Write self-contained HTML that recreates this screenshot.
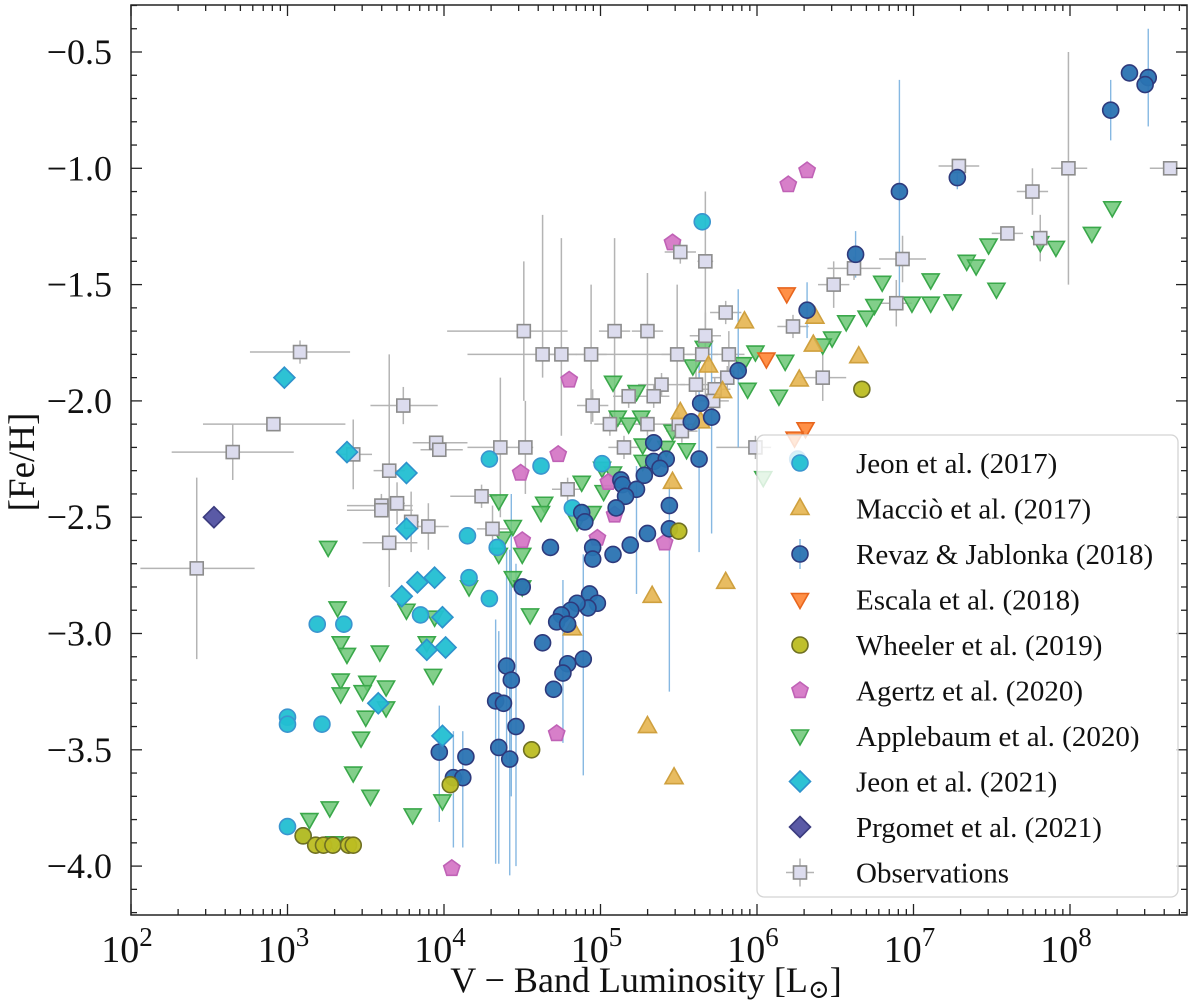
<!DOCTYPE html>
<html><head><meta charset="utf-8"><style>
html,body{margin:0;padding:0;background:#fff;width:1200px;height:1000px;overflow:hidden}
svg{display:block}
text{font-family:"Liberation Serif","DejaVu Serif",serif;fill:#111}
</style></head><body>
<svg id="chart" xmlns="http://www.w3.org/2000/svg" width="1200" height="1000" viewBox="0 0 1200 1000"></svg>
<script>
// ---- data (log10 L_V, [Fe/H]) ----
const jeon17_logL=[5.65,4.29,4.62,5.01,4.82,4.15,4.34,4.16,4.29,3.85,3.19,3.36,3.00,3.00,3.22,3.00,3.10,6.26];
const jeon17_feh=[-1.23,-2.25,-2.28,-2.27,-2.46,-2.58,-2.63,-2.76,-2.85,-2.92,-2.96,-2.96,-3.36,-3.39,-3.39,-3.83,-3.87,-2.25];
const maccio_logL=[5.92,6.37,6.36,6.65,6.27,5.69,5.78,5.51,5.64,5.46,4.82,5.33,5.80,5.30,5.47];
const maccio_feh=[-1.66,-1.64,-1.76,-1.81,-1.91,-1.85,-1.96,-2.05,-2.09,-2.35,-2.98,-2.84,-2.78,-3.40,-3.62];
const revaz_logL=[6.91,7.28,8.26,8.38,8.50,8.48,6.63,6.32,5.88,5.71,5.64,5.58,5.34,5.63,5.34,5.42,5.38,5.28,5.13,5.14,5.23,5.16,5.44,5.10,4.88,4.90,5.30,5.44,4.68,4.95,5.19,5.08,4.95,4.50,4.93,4.98,4.92,4.85,4.81,4.75,4.72,4.79,4.63,4.89,4.79,4.76,4.70,4.40,4.43,4.33,4.38,4.46,4.35,4.42,3.97,4.14,4.06,4.12];
const revaz_feh=[-1.10,-1.04,-0.75,-0.59,-0.61,-0.64,-1.37,-1.61,-1.87,-2.07,-2.01,-2.09,-2.18,-2.25,-2.26,-2.25,-2.29,-2.32,-2.34,-2.36,-2.38,-2.41,-2.45,-2.46,-2.48,-2.52,-2.57,-2.55,-2.63,-2.63,-2.62,-2.66,-2.68,-2.80,-2.83,-2.87,-2.89,-2.87,-2.90,-2.92,-2.95,-2.96,-3.04,-3.11,-3.13,-3.17,-3.24,-3.14,-3.20,-3.29,-3.30,-3.40,-3.49,-3.54,-3.51,-3.53,-3.62,-3.62];
const revaz_errLo=[0.48,0.05,0.13,0,0.21,0,0.1,0.12,0.33,0.5,0,0,0,0.4,0,0,0,0,0,0,0.45,0,0,0,0,0,0,0.7,0,0,0,0,0,0,0,0,0,0,0,0,0,0,0,0.5,0,0.3,0,0.4,0.5,0.7,0,0.6,0.5,0.5,0.3,0,0.3,0.3];
const revaz_errHi=[0.48,0.05,0.13,0,0.21,0,0.1,0.12,0.35,0.36,0,0,0,0.5,0,0,0,0,0,0,0.1,0,0,0,0,0,0,0.2,0,0,0,0,0,0,0,0,0,0,0,0,0,0,0,0.45,0,0.4,0,0.5,0.8,0.35,0,0.7,0.5,0.9,0.2,0,0.2,0.2];
const escala_logL=[6.19,6.06,6.31,6.24];
const escala_feh=[-1.54,-1.82,-2.12,-2.16];
const wheeler_logL=[6.67,5.50,4.56,4.04,3.10,3.18,3.23,3.29,3.39,3.42];
const wheeler_feh=[-1.95,-2.56,-3.50,-3.65,-3.87,-3.91,-3.91,-3.91,-3.91,-3.91];
const agertz_logL=[6.32,6.20,5.46,4.80,4.73,4.49,5.05,5.09,4.98,5.41,4.50,4.72,4.05];
const agertz_feh=[-1.01,-1.07,-1.32,-1.91,-2.23,-2.31,-2.35,-2.49,-2.59,-2.61,-2.60,-3.43,-4.01];
const apple_logL=[7.48,7.34,7.40,7.11,7.53,6.99,7.11,7.25,7.81,7.91,8.14,8.27,6.80,6.75,6.70,6.57,6.48,6.42,5.99,6.18,5.94,6.14,5.59,5.66,5.91,5.08,5.23,5.11,5.18,5.26,5.46,5.55,5.27,5.42,5.27,5.01,5.08,4.88,5.02,4.35,4.64,4.62,4.95,4.85,4.44,4.38,4.35,4.50,4.44,4.50,4.16,4.55,3.93,3.99,3.80,3.32,3.76,3.34,3.38,3.59,3.34,3.51,3.63,3.34,3.48,3.63,3.50,3.47,3.42,3.53,3.27,3.14,3.30,3.89,3.26,3.94,6.04];
const apple_feh=[-1.33,-1.40,-1.42,-1.48,-1.52,-1.58,-1.58,-1.57,-1.32,-1.34,-1.28,-1.17,-1.49,-1.59,-1.64,-1.66,-1.73,-1.76,-1.79,-1.83,-1.95,-1.98,-1.85,-1.77,-1.84,-1.92,-1.96,-2.07,-2.10,-2.07,-2.13,-2.21,-2.19,-2.20,-2.26,-2.29,-2.31,-2.35,-2.39,-2.43,-2.44,-2.48,-2.48,-2.52,-2.54,-2.59,-2.66,-2.66,-2.76,-2.80,-2.80,-2.92,-3.18,-3.72,-3.78,-2.89,-2.90,-3.04,-3.09,-3.08,-3.20,-3.21,-3.23,-3.26,-3.25,-3.32,-3.36,-3.45,-3.60,-3.70,-3.75,-3.80,-3.90,-3.04,-2.63,-2.93,-2.33];
const jeon21_logL=[2.98,3.38,3.76,3.76,3.94,3.83,3.73,3.99,3.89,4.01,3.58,3.99];
const jeon21_feh=[-1.90,-2.22,-2.31,-2.55,-2.76,-2.78,-2.84,-2.93,-3.07,-3.06,-3.30,-3.44];
const prgomet_logL=[2.53];
const prgomet_feh=[-2.50];
const obs_logL=[3.08,3.74,2.91,2.65,3.42,3.65,3.95,3.97,3.60,3.60,3.70,3.79,3.90,3.65,2.42,4.36,4.52,4.51,4.63,4.75,4.94,5.09,5.30,5.49,5.65,5.67,5.51,5.67,5.80,5.82,6.23,5.39,5.61,5.18,5.34,5.73,5.72,5.81,4.95,5.06,5.30,5.50,5.52,5.15,5.99,4.79,4.24,4.31,6.49,6.62,6.93,6.89,6.42,7.29,7.99,8.64,7.76,7.60,7.81];
const obs_feh=[-1.79,-2.02,-2.10,-2.22,-2.23,-2.30,-2.18,-2.21,-2.45,-2.47,-2.44,-2.52,-2.54,-2.61,-2.72,-2.20,-2.20,-1.70,-1.80,-1.80,-1.80,-1.70,-1.70,-1.80,-1.80,-1.72,-1.36,-1.40,-1.62,-1.80,-1.68,-1.93,-1.93,-1.98,-1.98,-1.95,-2.00,-1.90,-2.02,-2.10,-2.10,-2.10,-2.13,-2.20,-2.20,-2.38,-2.41,-2.55,-1.50,-1.43,-1.39,-1.58,-1.90,-0.99,-1.00,-1.00,-1.10,-1.28,-1.30];
const obs_xLo=[0.32,0.21,0.45,0.39,0.1,0.1,0.15,0.12,0.22,0.22,0.05,0.05,0.12,0.17,0.36,0.21,0.05,0.49,0.48,0.1,0.1,0.1,0.1,0.1,0.1,0.1,0.1,0.05,0.1,0.1,0.1,0.15,0.1,0.1,0.1,0.1,0.1,0.1,0.1,0.1,0.1,0.1,0.1,0.1,0.25,0.1,0.2,0.1,0.1,0.17,0.15,0.1,0.15,0.13,0.11,0.13,0.1,0.1,0.05];
const obs_xHi=[0.32,0.22,0.46,0.39,0.12,0.1,0.2,0.15,0.2,0.2,0.05,0.05,0.13,0.18,0.37,0.14,0.05,0.28,0.86,0.1,0.1,0.1,0.1,0.1,0.1,0.1,0.1,0.05,0.1,0.1,0.1,0.15,0.1,0.1,0.1,0.1,0.1,0.1,0.1,0.1,0.1,0.1,0.1,0.1,0.1,0.1,0.1,0.1,0.1,0.17,0.15,0.1,0.15,0.13,0.12,0.13,0.1,0.1,0.05];
const obs_yLo=[0.05,0.08,0,0.12,0.15,0.5,0,0.03,0.05,0,0.09,0.13,0.1,0.12,0.39,0.3,0.2,0.3,0.1,0.35,0.3,0.4,0.3,0.3,0,0.1,0.05,0.6,0.05,0.1,0.05,0.05,0.1,0.05,0.05,0.05,0.05,0.05,0.07,0.05,0.05,0.05,0.05,0.05,0.05,0.05,0.05,0.1,0.1,0.05,0.1,0.1,0.1,0.03,0.5,0,0.1,0.02,0.1];
const obs_yHi=[0.05,0.08,0,0.12,0.15,0.5,0,0.03,0.05,0,0.09,0.13,0.1,0.12,0.39,0.3,0.2,0.3,0.6,0.5,0.3,0.4,0.25,0.3,0,0.1,0.05,0.3,0.05,0.1,0.05,0.05,0.1,0.05,0.05,0.05,0.05,0.05,0.07,0.05,0.05,0.05,0.05,0.05,0.05,0.05,0.05,0.1,0.1,0.05,0.1,0.1,0.1,0.03,0.5,0,0.1,0.02,0.1];
const xTickExp=[2,3,4,5,6,7,8];
const yTickVals=[-4.0,-3.5,-3.0,-2.5,-2.0,-1.5,-1.0,-0.5];
const yTickLabels=["\u22124.0","\u22123.5","\u22123.0","\u22122.5","\u22122.0","\u22121.5","\u22121.0","\u22120.5"];
const legendLabels=["Jeon et al. (2017)","Macci\u00f2 et al. (2017)","Revaz & Jablonka (2018)","Escala et al. (2018)","Wheeler et al. (2019)","Agertz et al. (2020)","Applebaum et al. (2020)","Jeon et al. (2021)","Prgomet et al. (2021)","Observations"];

// ---- layout ----
const L=131,R=1187,T=5,B=915;
const X0=2,DEC=156.5, Y0=-0.5, YS=232.6, YREF=52;
function sx(l){return L+(l-X0)*DEC;}
function sy(f){return YREF+(Y0-f)*YS;}
const NS="http://www.w3.org/2000/svg";
const svg=document.getElementById('chart');
function el(tag,attrs,parent){const e=document.createElementNS(NS,tag);for(const k in attrs)e.setAttribute(k,attrs[k]);(parent||svg).appendChild(e);return e;}

const styles={
 jeon17:{shape:'circle',fill:'#22bfd2',stroke:'#3a95cf',op:0.95},
 maccio:{shape:'up',fill:'#e6b550',stroke:'#cfa03e',op:0.9},
 revaz:{shape:'circle',fill:'#2a73b2',stroke:'#2e3a7c',op:0.95},
 escala:{shape:'down',fill:'#ff8a3d',stroke:'#e8661e',op:0.95},
 wheeler:{shape:'circle',fill:'#bcbd22',stroke:'#6f7022',op:0.95},
 agertz:{shape:'pent',fill:'#d578c6',stroke:'#c062b6',op:0.95},
 apple:{shape:'down',fill:'#6cc776',stroke:'#3aa84a',op:0.85},
 jeon21:{shape:'diamond',fill:'#22bfd2',stroke:'#2e92cc',op:0.95},
 prgomet:{shape:'diamond',fill:'#5a5aa6',stroke:'#3b3b7e',op:1},
 obs:{shape:'square',fill:'#dcdcee',stroke:'#8c8c8c',op:1}
};
function marker(st,cx,cy,g){
 let e;
 const a={fill:st.fill,stroke:st.stroke,'stroke-width':1.6,'fill-opacity':st.op};
 if(st.shape==='circle'){e=el('circle',Object.assign({cx:cx,cy:cy,r:8},a),g);}
 else if(st.shape==='up'){e=el('polygon',Object.assign({points:`${cx},${cy-10} ${cx-9},${cy+6} ${cx+9},${cy+6}`},a),g);}
 else if(st.shape==='down'){e=el('polygon',Object.assign({points:`${cx},${cy+9} ${cx-8.5},${cy-6} ${cx+8.5},${cy-6}`},a),g);}
 else if(st.shape==='diamond'){e=el('polygon',Object.assign({points:`${cx},${cy-10.5} ${cx+10.5},${cy} ${cx},${cy+10.5} ${cx-10.5},${cy}`},a),g);}
 else if(st.shape==='square'){e=el('rect',Object.assign({x:cx-6.5,y:cy-6.5,width:13,height:13},a),g);}
 else {let p=[];for(let i=0;i<5;i++){const ang=-Math.PI/2+i*2*Math.PI/5;p.push((cx+8.5*Math.cos(ang)).toFixed(1)+','+(cy+8.5*Math.sin(ang)).toFixed(1));}
  e=el('polygon',Object.assign({points:p.join(' ')},a),g);}
 return e;
}

const defs=el('defs',{});
const cp=el('clipPath',{id:'plotclip'},defs);
el('rect',{x:L,y:T,width:R-L,height:B-T},cp);
const plot=el('g',{'clip-path':'url(#plotclip)'});



function series(name,lx,fe,st){
 const g=el('g',{},plot);
 
 
 for(let i=0;i<lx.length;i++){
  const m=marker(st,sx(lx[i]),sy(fe[i]),g);
  
  
 }
}

const obsErr=el('g',{stroke:'#b4b4b4','stroke-width':1.5,fill:'none'},plot);


for(let i=0;i<obs_logL.length;i++){
 const cx=sx(obs_logL[i]),cy=sy(obs_feh[i]);
 const h=el('line',{x1:sx(obs_logL[i]-obs_xLo[i]),x2:sx(obs_logL[i]+obs_xHi[i]),y1:cy,y2:cy},obsErr);
 
 
 const v=el('line',{x1:cx,x2:cx,y1:sy(obs_feh[i]-obs_yLo[i]),y2:sy(obs_feh[i]+obs_yHi[i])},obsErr);
 
 
}
const revErr=el('g',{stroke:'#86b8e2','stroke-width':1.4},plot);


for(let i=0;i<revaz_logL.length;i++){
 if(revaz_errLo[i]===0&&revaz_errHi[i]===0)continue;
 const cx=sx(revaz_logL[i]);
 const v=el('line',{x1:cx,x2:cx,y1:sy(revaz_feh[i]-revaz_errLo[i]),y2:sy(revaz_feh[i]+revaz_errHi[i])},revErr);
 
 
}

series('applebaum-2020',apple_logL,apple_feh,styles.apple);
series('agertz-2020',agertz_logL,agertz_feh,styles.agertz);
series('observations',obs_logL,obs_feh,styles.obs);
series('jeon-2017',jeon17_logL,jeon17_feh,styles.jeon17);
series('maccio-2017',maccio_logL,maccio_feh,styles.maccio);
series('revaz-jablonka-2018',revaz_logL,revaz_feh,styles.revaz);
series('escala-2018',escala_logL,escala_feh,styles.escala);
series('wheeler-2019',wheeler_logL,wheeler_feh,styles.wheeler);
series('jeon-2021',jeon21_logL,jeon21_feh,styles.jeon21);
series('prgomet-2021',prgomet_logL,prgomet_feh,styles.prgomet);

const frame=el('rect',{x:L,y:T,width:R-L,height:B-T,fill:'none',stroke:'#222','stroke-width':1.5});


const ticks=el('g',{stroke:'#222','stroke-width':1.3});


const xlab=el('g',{});


for(const e of xTickExp){
 const x=sx(e);
 el('line',{x1:x,x2:x,y1:B,y2:B-11},ticks);
 el('line',{x1:x,x2:x,y1:T,y2:T+11},ticks);
 const t=el('text',{x:x-4,y:962,'font-size':38,'text-anchor':'middle'},xlab);
 
 
 t.textContent='10';
 const s=el('tspan',{dy:-16,'font-size':27},t);s.textContent=String(e);
 for(let m=2;m<=9;m++){
  const xm=sx(e+Math.log10(m));
  if(xm>R)continue;
  el('line',{x1:xm,x2:xm,y1:B,y2:B-6},ticks);
  el('line',{x1:xm,x2:xm,y1:T,y2:T+6},ticks);
 }
}
const ylab=el('g',{});


for(let i=0;i<yTickVals.length;i++){
 const y=sy(yTickVals[i]);
 el('line',{x1:L,x2:L+11,y1:y,y2:y},ticks);
 el('line',{x1:R,x2:R-11,y1:y,y2:y},ticks);
 const t=el('text',{x:112,y:y+12,'font-size':36,'text-anchor':'end'},ylab);
 
 
 t.textContent=yTickLabels[i];
}
for(let k=-42;k<=-3;k++){
 const v=k/10; if(k%5===0)continue;
 const y=sy(v); if(y<T||y>B)continue;
 el('line',{x1:L,x2:L+6,y1:y,y2:y},ticks);
 el('line',{x1:R,x2:R-6,y1:y,y2:y},ticks);
}
const xt=el('text',{x:646,y:992,'font-size':36,'text-anchor':'middle'});


xt.textContent='V \u2212 Band Luminosity [L';
const sub=el('tspan',{dy:6,'font-size':26},xt);sub.textContent='\u2299';
const cl=el('tspan',{dy:-6},xt);cl.textContent=']';
const yt=el('text',{x:0,y:0,'font-size':37,'text-anchor':'middle',transform:'translate(34,462) rotate(-90)'});


yt.textContent='[Fe/H]';

const lg=el('g',{});


el('rect',{x:757,y:435,width:421,height:462,rx:7,fill:'#fff','fill-opacity':0.8,stroke:'#d4d4d4','stroke-width':1.3},lg);
const legStyles=[styles.jeon17,styles.maccio,styles.revaz,styles.escala,styles.wheeler,styles.agertz,styles.apple,styles.jeon21,styles.prgomet,styles.obs];
for(let i=0;i<legendLabels.length;i++){
 const y=463+i*45.5;
 const it=el('g',{},lg);
 
 
 if(i===2){el('line',{x1:800,x2:800,y1:y-15,y2:y+15,stroke:'#86b8e2','stroke-width':1.4},it);}
 if(i===9){el('line',{x1:786,x2:814,y1:y,y2:y,stroke:'#b4b4b4','stroke-width':1.5},it);el('line',{x1:800,x2:800,y1:y-14,y2:y+14,stroke:'#b4b4b4','stroke-width':1.5},it);}
 marker(legStyles[i],800,y,it);
 const t=el('text',{x:856,y:y+10,'font-size':29},it);
 t.textContent=legendLabels[i];
}
</script>
</body></html>
